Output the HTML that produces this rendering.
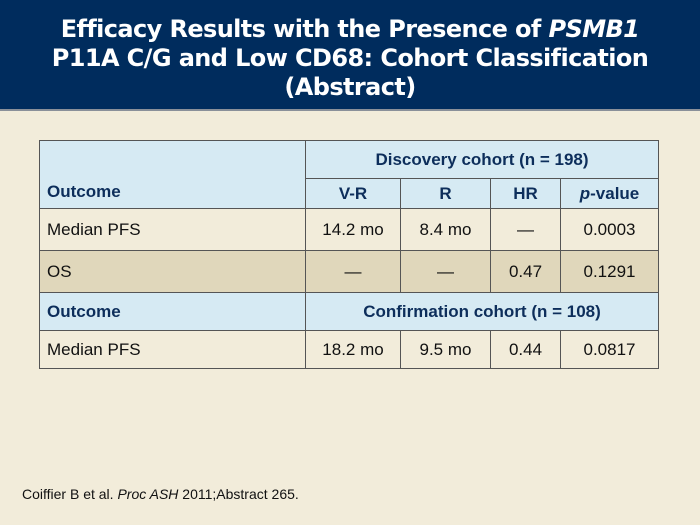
<!DOCTYPE html>
<html><head><meta charset="utf-8"><style>
body{margin:0;width:700px;height:525px;background:#f2ecda;font-family:"Liberation Sans",sans-serif;position:relative;overflow:hidden}
#hdr{position:absolute;left:0;top:0;width:700px;height:109px;background:#002c5d;border-bottom:2px solid #8a9099}
#hdr h1{margin:0;padding-top:15px;color:#fff;font-family:"DejaVu Sans",sans-serif;font-size:24px;line-height:29px;text-align:center;font-weight:bold;letter-spacing:-0.6px}
table{position:absolute;left:39px;top:140px;border-collapse:collapse;font-size:17px;color:#111}
td{border:1px solid #555;padding:0 7px;text-align:center}
td.l{text-align:left}
.h{background:#d6eaf3;color:#0d2e5b;font-weight:bold}
.os td{background:#e0d7bb}
#foot{position:absolute;left:22px;top:486px;font-size:14px;color:#111}
</style></head><body>
<div id="hdr"><h1>Efficacy Results with the Presence of <i>PSMB1</i><br>P11A C/G and Low CD68: Cohort Classification<br>(Abstract)</h1></div>
<table>
<colgroup><col style="width:266px"><col style="width:95px"><col style="width:90px"><col style="width:70px"><col style="width:98px"></colgroup>
<tr class="h" style="height:38px"><td rowspan="2" class="l" style="vertical-align:bottom;padding-bottom:6px">Outcome</td><td colspan="4">Discovery cohort (n = 198)</td></tr>
<tr class="h" style="height:30px"><td>V-R</td><td>R</td><td>HR</td><td><i>p</i>-value</td></tr>
<tr style="height:42px"><td class="l">Median PFS</td><td>14.2 mo</td><td>8.4 mo</td><td>—</td><td>0.0003</td></tr>
<tr class="os" style="height:42px"><td class="l">OS</td><td>—</td><td>—</td><td>0.47</td><td>0.1291</td></tr>
<tr class="h" style="height:38px"><td class="l">Outcome</td><td colspan="4">Confirmation cohort (n = 108)</td></tr>
<tr style="height:38px"><td class="l">Median PFS</td><td>18.2 mo</td><td>9.5 mo</td><td>0.44</td><td>0.0817</td></tr>
</table>
<div id="foot">Coiffier B et al. <i>Proc ASH</i> 2011;Abstract 265.</div>
</body></html>
